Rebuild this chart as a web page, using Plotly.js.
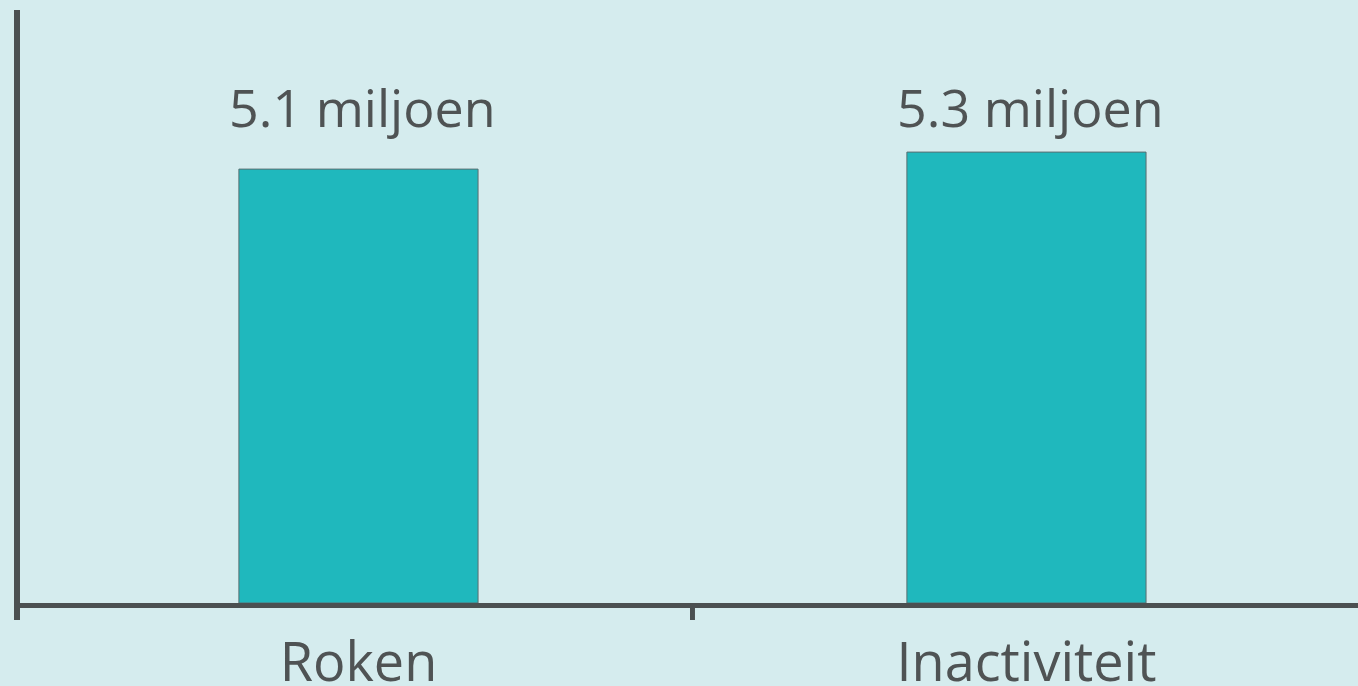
<!DOCTYPE html>
<html>
<head>
<meta charset="utf-8">
<script src="https://cdn.plot.ly/plotly-3.0.1.min.js"></script>
<style>
  html, body { margin: 0; padding: 0; background: #d5ecee; }
  #chart { width: 1358px; height: 686px; }
</style>
</head>
<body>
<div id="chart"></div>
<script>
const categories = ["Roken", "Inactiviteit"];
const values = [5.1, 5.3];
const valueLabels = ["5.1 miljoen", "5.3 miljoen"];

const textColor = "#4f5354";
const axisColor = "#4b5051";

const trace = {
  type: "bar",
  x: categories,
  y: values,
  width: 0.358,
  marker: { color: "#1fb8bd", line: { color: "#5a6d70", width: 1 } },
  hoverinfo: "skip"
};

const annotations = categories.map((c, i) => ({
  x: c, y: 0.774, xref: "x", yref: "paper",
  text: valueLabels[i], showarrow: false,
  yanchor: "bottom", xshift: 4,
  font: { family: "Open Sans", size: 52, color: textColor }
}));

const shapes = [
  { type: "line", xref: "x", yref: "paper", ysizemode: "pixel", yanchor: 0,
    x0: 0.5, x1: 0.5, y0: -5, y1: -17,
    line: { color: axisColor, width: 5 } },
  { type: "line", xref: "paper", yref: "paper", xsizemode: "pixel", ysizemode: "pixel",
    xanchor: 0, yanchor: 0, x0: -3, x1: -3, y0: 0, y1: -17,
    line: { color: axisColor, width: 6 } }
];

const layout = {
  width: 1358, height: 686,
  paper_bgcolor: "#d5ecee", plot_bgcolor: "#d5ecee",
  margin: { l: 20, r: 0, t: 10, b: 83 },
  showlegend: false,
  xaxis: {
    type: "category",
    range: [-0.5067, 1.4963],
    showline: true, linecolor: axisColor, linewidth: 5,
    showgrid: false, zeroline: false, ticks: "",
    tickfont: { family: "Open Sans", size: 54, color: textColor },
    ticklabelstandoff: 8
  },
  yaxis: {
    range: [0, 6.97],
    showline: true, linecolor: axisColor, linewidth: 6,
    showgrid: false, zeroline: false, ticks: "", showticklabels: false
  },
  annotations: annotations,
  shapes: shapes
};

Plotly.newPlot("chart", [trace], layout, { displayModeBar: false, staticPlot: true });
</script>
</body>
</html>
